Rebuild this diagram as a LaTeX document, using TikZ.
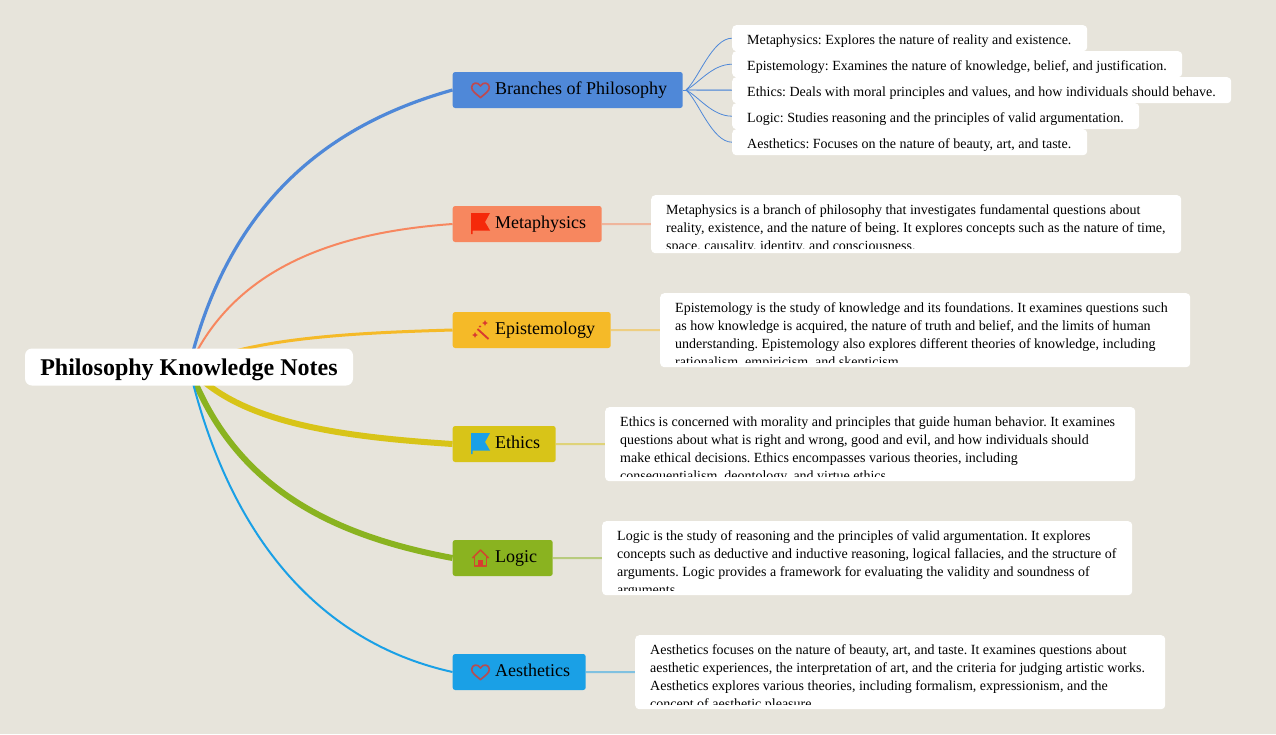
\documentclass[tikz,border=0pt]{standalone}
\usepackage{fontspec}
\setmainfont{Liberation Serif}
\frenchspacing
\usetikzlibrary{calc,backgrounds}
\definecolor{Paper}{HTML}{E7E4DB}
\definecolor{BranchBlue}{HTML}{4F88D8}
\definecolor{MetaCoral}{HTML}{F7875F}
\definecolor{EpiAmber}{HTML}{F5BA28}
\definecolor{EthicsOlive}{HTML}{D8C418}
\definecolor{LogicGreen}{HTML}{8AB320}
\definecolor{ArtSky}{HTML}{1AA0E6}
\definecolor{IconRed}{HTML}{D93A30}
\definecolor{FlagRed}{HTML}{F5290A}
\tikzset{
  rootbox/.style={fill=white,rounded corners=7pt,inner sep=0pt,minimum width=328pt,minimum height=37pt,text depth=0pt,font=\fontsize{24}{28}\bfseries\selectfont},
  branchbox/.style={rounded corners=2.5pt,inner sep=0pt,minimum height=36pt,anchor=west},
  branchtext/.style={inner sep=0pt,anchor=base west,font=\fontsize{18}{22}\selectfont},
  notebox/.style={fill=white,rounded corners=4pt,inner sep=0pt,anchor=north west},
  notetext/.style={inner sep=0pt,anchor=north west,align=left,font=\fontsize{14}{18}\selectfont},
  spoke/.style={line width=2pt,opacity=0.5},
  twig/.style={BranchBlue,line width=0.8pt},
}
\newcommand{\BranchNode}[5]{%
  \node[branchbox,fill=#2,minimum width=#3pt] (#1) at (452.5,#4) {};%
  \node[branchtext] (#1label) at (495,#4+4) {#5};%
}
\newcommand{\NoteNode}[6]{%
  \node[notebox,minimum width=#4pt,minimum height=#5pt] (#1) at (#2,#3) {};%
  \begin{scope}
    \clip (#1.north west) rectangle ([yshift=5pt]#1.south east);
    \node[notetext] (#1text) at ([shift={(15pt,-6.4pt)}]#1.north west) {\strut #6};
  \end{scope}%
}
\newcommand{\HeartIcon}[2]{%
  \draw[IconRed,opacity=0.8,line width=1.7pt,line join=round,shift={(#1,#2)}] (0,7.6) .. controls (-4,4) and (-9.3,1) .. (-8.8,-3)
    .. controls (-8.4,-7.4) and (-2.5,-8.6) .. (0,-4) .. controls (2.5,-8.6) and (8.4,-7.4) .. (8.8,-3)
    .. controls (9.3,1) and (4,4) .. (0,7.6) -- cycle;%
}
\newcommand{\FlagIcon}[3]{%
  \fill[#3,shift={(#1,#2)}] (0,0) -- (19,0) -- (14,9) -- (19,17.5) -- (1.5,17.5) -- (1.5,21) -- (0,21) -- cycle;%
}
\newcommand{\SparkIcon}[3]{%
  \fill[IconRed,shift={(#1,#2)}] (0,-#3) -- (0.3*#3,-0.3*#3) -- (#3,0) -- (0.3*#3,0.3*#3) -- (0,#3) -- (-0.3*#3,0.3*#3) -- (-#3,0) -- (-0.3*#3,-0.3*#3) -- cycle;%
}

\begin{document}
\begin{tikzpicture}[x=1pt,y=-1pt]
\useasboundingbox (0,0) rectangle (1276,734);
\node[rootbox] (root) at (189,367) {Philosophy Knowledge Notes};

\BranchNode{branches}{BranchBlue}{230}{90}{Branches of Philosophy}
\BranchNode{meta}{MetaCoral}{149}{224}{Metaphysics}
\BranchNode{epi}{EpiAmber}{158}{330}{Epistemology}
\BranchNode{ethics}{EthicsOlive}{103}{444}{Ethics}
\BranchNode{logic}{LogicGreen}{100}{558}{Logic}
\BranchNode{art}{ArtSky}{133}{672}{Aesthetics}

% icons
\HeartIcon{480.5}{90}
\HeartIcon{480.5}{672}
\FlagIcon{471}{213}{FlagRed}
\FlagIcon{471}{433}{ArtSky}
\draw[IconRed,line width=1.9pt] (477.5,329) -- (488.5,339);
\SparkIcon{485}{323}{3}
\SparkIcon{475}{335}{3}
\SparkIcon{480}{326.5}{1.5}
\draw[IconRed,opacity=0.85,line width=1.6pt,line join=round] (472.5,558) -- (480.5,550) -- (488.5,558);
\draw[IconRed,opacity=0.85,line width=1.6pt,line join=round] (474.5,556.5) -- (474.5,566) -- (486.5,566) -- (486.5,556.5);
\fill[IconRed] (478,559.5) rectangle (483,566);

% short facts
\NoteNode{factmeta}{732}{25}{355}{26}{Metaphysics: Explores the nature of reality and existence.}
\NoteNode{factepi}{732}{51}{450}{26}{Epistemology: Examines the nature of knowledge, belief, and justification.}
\NoteNode{factethics}{732}{77}{499}{26}{Ethics: Deals with moral principles and values, and how individuals should behave.}
\NoteNode{factlogic}{732}{103}{407}{26}{Logic: Studies reasoning and the principles of valid argumentation.}
\NoteNode{factart}{732}{129}{355}{26}{Aesthetics: Focuses on the nature of beauty, art, and taste.}

% long notes
\NoteNode{notemeta}{651}{195}{530}{58}{Metaphysics is a branch of philosophy that investigates fundamental questions about\\reality, existence, and the nature of being. It explores concepts such as the nature of time,\\space, causality, identity, and consciousness.}
\NoteNode{noteepi}{660}{293}{530}{74}{Epistemology is the study of knowledge and its foundations. It examines questions such\\as how knowledge is acquired, the nature of truth and belief, and the limits of human\\understanding. Epistemology also explores different theories of knowledge, including\\rationalism, empiricism, and skepticism.}
\NoteNode{noteethics}{605}{407}{530}{74}{Ethics is concerned with morality and principles that guide human behavior. It examines\\questions about what is right and wrong, good and evil, and how individuals should\\make ethical decisions. Ethics encompasses various theories, including\\consequentialism, deontology, and virtue ethics.}
\NoteNode{notelogic}{602}{521}{530}{74}{Logic is the study of reasoning and the principles of valid argumentation. It explores\\concepts such as deductive and inductive reasoning, logical fallacies, and the structure of\\arguments. Logic provides a framework for evaluating the validity and soundness of\\arguments.}
\NoteNode{noteart}{635}{635}{530}{74}{Aesthetics focuses on the nature of beauty, art, and taste. It examines questions about\\aesthetic experiences, the interpretation of art, and the criteria for judging artistic works.\\Aesthetics explores various theories, including formalism, expressionism, and the\\concept of aesthetic pleasure.}

\coordinate (fanhub) at (686,90);
\begin{pgfonlayer}{background}
\fill[Paper] (0,0) rectangle (1276,734);
\draw[BranchBlue,line width=3.2pt] (root.center) .. controls (232,190) and (342,121) .. (branches.west);
\draw[MetaCoral,line width=2pt] (root.center) .. controls (235,265) and (340,232) .. (meta.west);
\draw[EpiAmber,line width=3pt] (root.center) .. controls (250,338) and (350,333) .. (epi.west);
\draw[EthicsOlive,line width=6pt] (root.center) .. controls (238,424) and (345,437) .. (ethics.west);
\draw[LogicGreen,line width=6pt] (root.center) .. controls (235,490) and (335,536) .. (logic.west);
\draw[ArtSky,line width=2pt] (root.center) .. controls (232,550) and (330,645) .. (art.west);
\draw[spoke,MetaCoral] (meta.east) -- (notemeta.west);
\draw[spoke,EpiAmber] (epi.east) -- (noteepi.west);
\draw[spoke,EthicsOlive] (ethics.east) -- (noteethics.west);
\draw[spoke,LogicGreen] (logic.east) -- (notelogic.west);
\draw[spoke,ArtSky] (art.east) -- (noteart.west);
\draw[twig] (branches.east) -- (fanhub);
\foreach \n/\b in {factmeta/80,factepi/84,factlogic/96,factart/100}
  \draw[twig] (fanhub) .. controls (698,\b) and (712,0|-\n.west) .. (\n.west);
\draw[twig,line width=1.4pt,opacity=0.7] (fanhub) -- (factethics.west);
\end{pgfonlayer}
\end{tikzpicture}
\end{document}
